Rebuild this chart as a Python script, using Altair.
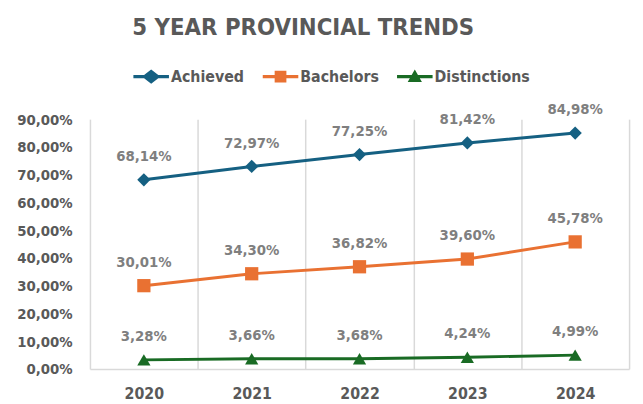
import altair as alt
import pandas as pd

years = ["2020", "2021", "2022", "2023", "2024"]
series = ["Achieved", "Bachelors", "Distinctions"]
achieved = [0.6814, 0.7297, 0.7725, 0.8142, 0.8498]
bachelors = [0.3001, 0.3430, 0.3682, 0.3960, 0.4578]
distinctions = [0.0328, 0.0366, 0.0368, 0.0424, 0.0499]
y_ticks = [0.0, 0.1, 0.2, 0.3, 0.4, 0.5, 0.6, 0.7, 0.8, 0.9]

colors = ["#156082", "#E97132", "#196B24"]
shapes = ["diamond", "square", "triangle-up"]
legend_paths = [
    "M-1,-0.09H-0.4L0,-0.4L0.4,-0.09H1V0.09H0.4L0,0.4L-0.4,0.09H-1Z",
    "M-1,-0.09H-0.33V-0.33H0.33V-0.09H1V0.09H0.33V0.33H-0.33V0.09H-1Z",
    "M-1,-0.09H-0.177L0,-0.4L0.177,-0.09H1V0.09H0.28L0.4,0.3H-0.4L-0.28,0.09H-1Z",
]

rows = []
for name, vals in zip(series, [achieved, bachelors, distinctions]):
    for yr, v in zip(years, vals):
        rows.append({"year": yr, "series": name, "value": v})
df = pd.DataFrame(rows)

FONT = "Liberation Sans Narrow, DejaVu Sans Condensed, sans-serif"
GREY = "#595959"

x_enc = alt.X(
    "year:N",
    scale=alt.Scale(type="band", paddingInner=0, paddingOuter=0),
    axis=alt.Axis(
        title=None, labelAngle=0, ticks=False, grid=True, tickBand="extent",
        gridColor="#D9D9D9", gridWidth=1.5, domainColor="#D9D9D9", domainWidth=1.5,
        labelFont=FONT, labelFontSize=16, labelFontWeight="bold", labelColor=GREY,
        labelPadding=17,
    ),
)
y_enc = alt.Y(
    "value:Q",
    scale=alt.Scale(domain=[0, 0.9], nice=False),
    axis=alt.Axis(
        title=None, grid=False, domain=False, ticks=False, values=y_ticks,
        labelExpr="replace(format(datum.value, '.2%'), '.', ',')",
        labelFont=FONT, labelFontSize=15, labelFontWeight="bold", labelColor=GREY,
        labelPadding=18,
    ),
)

base = alt.Chart(df).encode(
    x=x_enc, y=y_enc,
    color=alt.Color("series:N", scale=alt.Scale(domain=series, range=colors), legend=None),
)

lines = base.mark_line(strokeWidth=3)
points = base.mark_point(filled=True, opacity=1, size=180).encode(
    shape=alt.Shape("series:N", scale=alt.Scale(domain=series, range=shapes), legend=None)
)
labels = base.mark_text(dy=-24, fontSize=15, fontWeight="bold", font=FONT).encode(
    text="label:N", color=alt.value("#7F7F7F")
).transform_calculate(label="replace(format(datum.value, '.2%'), '.', ',')")

legend_layer = alt.Chart(df).transform_filter("false").mark_point(
    filled=True, opacity=1, size=1296
).encode(
    color=alt.Color("series:N", scale=alt.Scale(domain=series, range=colors),
                    legend=alt.Legend(title=None)),
    shape=alt.Shape("series:N", scale=alt.Scale(domain=series, range=legend_paths),
                    legend=alt.Legend(title=None)),
)

chart = alt.layer(lines, points, labels, legend_layer).resolve_scale(
    shape="independent", color="independent"
).properties(
    width=546, height=253,
    autosize=alt.AutoSizeParams(type="none"),
    padding={"left": 83, "top": 110, "right": 6, "bottom": 40},
    title=alt.TitleParams(
        "5 YEAR PROVINCIAL TRENDS", anchor="middle", frame="group", dx=-57,
        font=FONT, fontSize=24, fontWeight="bold", color=GREY, offset=19,
    ),
).configure_view(stroke=None).configure_legend(
    orient="none", legendX=44, legendY=-61, direction="horizontal",
    symbolSize=1296, symbolStrokeWidth=0, columnPadding=18, labelOffset=2,
    labelFont=FONT, labelFontSize=16, labelFontWeight="bold", labelColor=GREY,
)

chart.save("out.html", embed_options={"renderer": "svg", "actions": False})
